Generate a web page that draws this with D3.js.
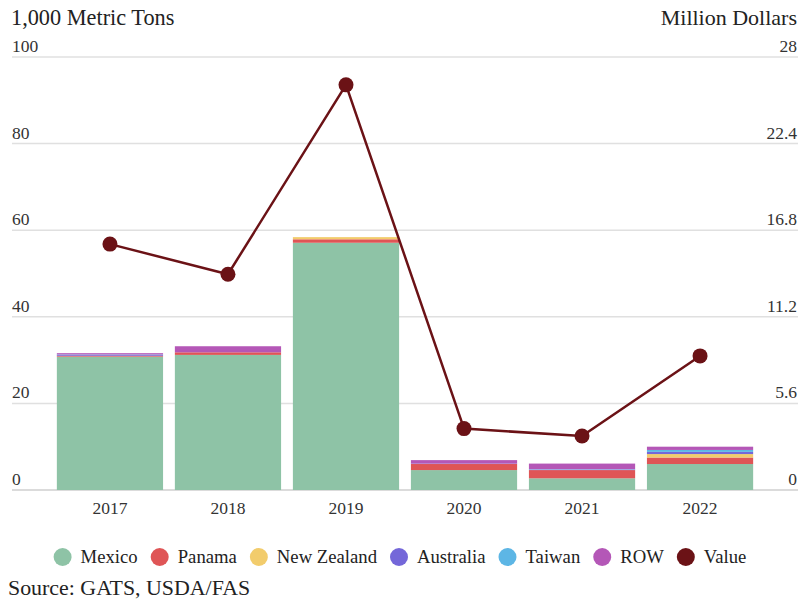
<!DOCTYPE html>
<html>
<head>
<meta charset="utf-8">
<script src="https://cdn.jsdelivr.net/npm/d3@7/dist/d3.min.js"></script>
<style>
  html, body { margin: 0; padding: 0; background: #fff; }
  svg, svg text { font-family: "Liberation Serif", "Tinos", "Times New Roman", "DejaVu Serif", serif; }
  svg { display: block; }
</style>
</head>
<body>
<svg id="chart" width="800" height="600"></svg>
<script>
const years = ["2017", "2018", "2019", "2020", "2021", "2022"];
const seriesNames = ["Mexico", "Panama", "New Zealand", "Australia", "Taiwan", "ROW"];
const mexico    = [30.8, 31.2, 57.1, 4.6, 2.7, 6.0];
const panama    = [0.2, 0.6, 0.8, 1.4, 1.9, 1.5];
const newZealand= [0.0, 0.0, 0.5, 0.0, 0.0, 0.8];
const australia = [0.2, 0.0, 0.0, 0.1, 0.1, 0.5];
const taiwan    = [0.1, 0.0, 0.0, 0.0, 0.1, 0.45];
const row       = [0.3, 1.4, 0.0, 0.8, 1.3, 0.75];
const value     = [15.9, 13.95, 26.2, 3.97, 3.49, 8.67];
const leftTicks  = [0, 20, 40, 60, 80, 100];
const rightTicks = [0, 5.6, 11.2, 16.8, 22.4, 28];
const colors = ["#8ec3a6", "#df5556", "#f2cc6c", "#7467d9", "#5db6e5", "#b457b7"];
const valueColor = "#6b1216";
const FONT = "'Liberation Serif', 'Tinos', 'Times New Roman', 'DejaVu Serif', serif";

const svg = d3.select("#chart").attr("font-family", FONT);
const plotLeft = 12, plotRight = 798, plotTop = 57, plotBottom = 490;

const x = d3.scaleBand().domain(years).range([plotLeft, plotRight]).paddingInner(0.1).paddingOuter(0.38);
const yL = d3.scaleLinear().domain([0, 100]).range([plotBottom, plotTop]);
const yR = d3.scaleLinear().domain([0, 28]).range([plotBottom, plotTop]);

// gridlines
svg.append("g").selectAll("line").data(leftTicks).join("line")
  .attr("x1", plotLeft).attr("x2", plotRight)
  .attr("y1", d => yL(d)).attr("y2", d => yL(d))
  .attr("stroke", d => d === 0 ? "#cfcfcf" : "#e0e0e0").attr("stroke-width", 1.5);

// left axis labels
svg.append("g").selectAll("text").data(leftTicks).join("text")
  .attr("x", plotLeft).attr("y", d => yL(d) - 5)
  .attr("font-size", 17.5).attr("fill", "#333")
  .text(d => d);

// right axis labels
svg.append("g").selectAll("text").data(rightTicks).join("text")
  .attr("x", plotRight - 1).attr("y", d => yR(d) - 5)
  .attr("text-anchor", "end")
  .attr("font-size", 17.5).attr("fill", "#333")
  .text(d => d);

// titles
svg.append("text").attr("x", plotLeft - 1).attr("y", 25).attr("font-size", 22.3).attr("fill", "#222").text("1,000 Metric Tons");
svg.append("text").attr("x", plotRight - 1).attr("y", 25).attr("text-anchor", "end").attr("font-size", 22).attr("fill", "#222").text("Million Dollars");

// stacked bars
const table = years.map((yr, i) => ({
  year: yr,
  "Mexico": mexico[i], "Panama": panama[i], "New Zealand": newZealand[i],
  "Australia": australia[i], "Taiwan": taiwan[i], "ROW": row[i]
}));
const stacked = d3.stack().keys(seriesNames)(table);
svg.append("g").selectAll("g").data(stacked).join("g")
  .attr("fill", (d, i) => colors[i])
  .selectAll("rect").data(d => d).join("rect")
  .attr("x", d => x(d.data.year))
  .attr("width", x.bandwidth())
  .attr("y", d => yL(d[1]))
  .attr("height", d => Math.max(0, yL(d[0]) - yL(d[1])));

// x labels
svg.append("g").selectAll("text").data(years).join("text")
  .attr("x", d => x(d) + x.bandwidth() / 2).attr("y", 514)
  .attr("text-anchor", "middle").attr("font-size", 17.5).attr("fill", "#333")
  .text(d => d);

// value line
const line = d3.line().x((d, i) => x(years[i]) + x.bandwidth() / 2).y(d => yR(d));
svg.append("path").datum(value).attr("d", line)
  .attr("fill", "none").attr("stroke", valueColor).attr("stroke-width", 2.5);
svg.append("g").selectAll("circle").data(value).join("circle")
  .attr("cx", (d, i) => x(years[i]) + x.bandwidth() / 2)
  .attr("cy", d => yR(d)).attr("r", 7.5).attr("fill", valueColor);

// legend
const legendItems = seriesNames.map((n, i) => ({ name: n, color: colors[i] }))
  .concat([{ name: "Value", color: valueColor }]);
const lg = svg.append("g");
const ly = 557;
let cx = 0;
legendItems.forEach(it => {
  const g = lg.append("g");
  g.append("circle").attr("cx", cx + 9).attr("cy", ly).attr("r", 9).attr("fill", it.color);
  const t = g.append("text").attr("x", cx + 27).attr("y", ly + 6).attr("font-size", 18.7).attr("fill", "#222").text(it.name);
  const w = t.node().getComputedTextLength();
  cx += 27 + w + 13;
});
const totalW = cx - 13;
lg.attr("transform", `translate(${(800 - totalW) / 2},0)`);

// source
svg.append("text").attr("x", 8).attr("y", 595).attr("font-size", 21.9).attr("fill", "#222").text("Source: GATS, USDA/FAS");
</script>
</body>
</html>
